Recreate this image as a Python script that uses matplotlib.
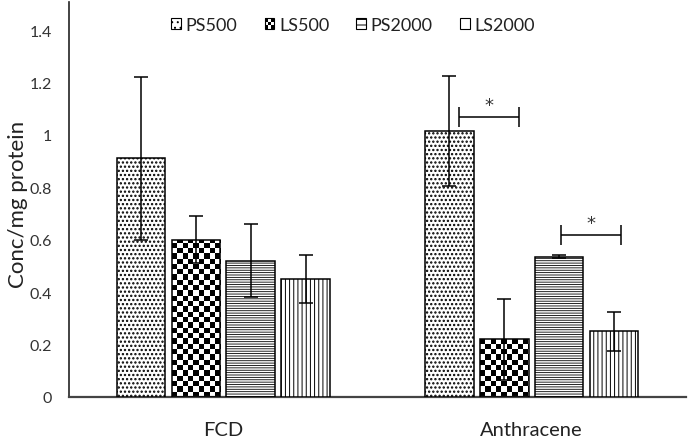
import numpy as np
import matplotlib
matplotlib.use("Agg")
import matplotlib.pyplot as plt
from matplotlib.patches import Rectangle, Patch
from matplotlib.legend_handler import HandlerBase

plt.rcParams['font.family'] = ['Lato', 'DejaVu Sans']
plt.rcParams['hatch.linewidth'] = 0.7

categories = ["FCD", "Anthracene"]
series = ["PS500", "LS500", "PS2000", "LS2000"]
ps500 = [0.91, 1.015]
ls500 = [0.60, 0.22]
ps2000 = [0.52, 0.535]
ls2000 = [0.45, 0.25]
ps500_err = [0.31, 0.21]
ls500_err = [0.09, 0.155]
ps2000_err = [0.14, 0.005]
ls2000_err = [0.092, 0.075]
yticks = [0, 0.2, 0.4, 0.6, 0.8, 1.0, 1.2, 1.4]
ytick_labels = ["0", "0.2", "0.4", "0.6", "0.8", "1", "1.2", "1.4"]

# significance brackets: (category index, x-start offset, x-end offset, y level)
sig_brackets = [(1, -0.237, -0.042, 1.07), (1, 0.094, 0.288, 0.618)]

values = [ps500, ls500, ps2000, ls2000]
errors = [ps500_err, ls500_err, ps2000_err, ls2000_err]
hatches = ['....', None, '-------', '||||']
hatch_lw = [1.1, None, 0.6, 0.7]

fig = plt.figure(figsize=(6.88, 4.39), dpi=100)
ax = fig.add_axes([69/688, (439-398)/439, 617/688, 395/439])

x = np.arange(len(categories))
width = 0.157
step = 0.178
ax.set_xlim(-0.5, 1.5)
ax.set_ylim(0, 1.507)

checker_cx = 5.3 / 308.5
checker_cy = 5.3 / 262

for i, (vals, errs, h) in enumerate(zip(values, errors, hatches)):
    pos = x + (i - 1.5) * step
    if h is None:
        bars = ax.bar(pos, vals, width, facecolor='none', edgecolor='black',
                      linewidth=1.1, zorder=3)
        for b in bars:
            bx0 = b.get_x()
            bw = b.get_width()
            bh = b.get_height()
            nx = int(np.ceil(bw / checker_cx))
            ny = int(np.ceil(bh / checker_cy))
            img = (np.indices((ny, nx)).sum(axis=0) % 2).astype(float)
            im = ax.imshow(img, cmap='gray', vmin=0, vmax=1, interpolation='nearest',
                           extent=(bx0, bx0 + nx * checker_cx, 0, ny * checker_cy),
                           origin='lower', aspect='auto', zorder=2)
            im.set_clip_path(b)
    else:
        bars = ax.bar(pos, vals, width, facecolor='white', edgecolor='black', hatch=h,
                      linewidth=1.1, zorder=3)
        for b in bars:
            try:
                b.set_hatch_linewidth(hatch_lw[i])
            except Exception:
                pass
    ax.errorbar(pos, vals, yerr=errs, fmt='none', ecolor='black', elinewidth=1.1,
                capsize=5, capthick=1.1, zorder=4)

for ci, xs, xe, yl in sig_brackets:
    cx = (xs + xe) / 2 + x[ci]
    hw = (xe - xs) / 2
    ax.errorbar([cx], [yl], xerr=[hw], fmt='none', ecolor='black', elinewidth=1.1,
                capsize=7, capthick=1.1, zorder=4)
    ax.text(cx, yl + 0.045, "*", ha='center', va='center', fontsize=13,
            family='DejaVu Sans', color='#333333')

ax.set_xticks(x)
ax.set_xticklabels(categories, fontsize=14.5, color='#222222')
ax.set_yticks(yticks)
ax.set_yticklabels(ytick_labels, fontsize=11.5, color='#333333')
ax.tick_params(axis='both', length=0)
ax.tick_params(axis='y', pad=12)
ax.tick_params(axis='x', pad=17)
ax.set_ylabel("Conc/mg protein", fontsize=16, color='#222222')
ax.yaxis.set_label_coords(-0.066, 0.49)

for s in ['top', 'right']:
    ax.spines[s].set_visible(False)
ax.spines['left'].set_linewidth(1.2)
ax.spines['bottom'].set_linewidth(1.6)
ax.spines['left'].set_color('#222222')
ax.spines['bottom'].set_color('#444444')


class CheckerHandler(HandlerBase):
    def create_artists(self, legend, orig_handle, xdescent, ydescent, width, height,
                       fontsize, trans):
        arts = []
        n = 3
        cw = width / n
        chh = height / n
        for r in range(n):
            for c in range(n):
                color = 'black' if (r + c) % 2 == 0 else 'white'
                arts.append(Rectangle((-xdescent + c * cw, -ydescent + r * chh), cw, chh,
                                      facecolor=color, edgecolor='none', transform=trans))
        arts.append(Rectangle((-xdescent, -ydescent), width, height, facecolor='none',
                              edgecolor='black', linewidth=0.8, transform=trans))
        return arts


handles = []
for i, h in enumerate(hatches):
    if h is None:
        handles.append(Patch(facecolor='black', edgecolor='black', label=series[i]))
    else:
        hh = {'....': '...', '-------': '---', '||||': '|'}[h]
        handles.append(Patch(facecolor='white', edgecolor='black', hatch=hh,
                             linewidth=0.8, label=series[i]))

leg = fig.legend(handles=handles, labels=series, ncol=4, frameon=False,
                 loc='center', bbox_to_anchor=(353/688, 1 - 26/439),
                 fontsize=13, handlelength=0.55, handleheight=0.55,
                 handletextpad=0.25, columnspacing=1.5,
                 handler_map={handles[1]: CheckerHandler()})
for t in leg.get_texts():
    t.set_color('#222222')

fig.savefig("out.png", dpi=100)
